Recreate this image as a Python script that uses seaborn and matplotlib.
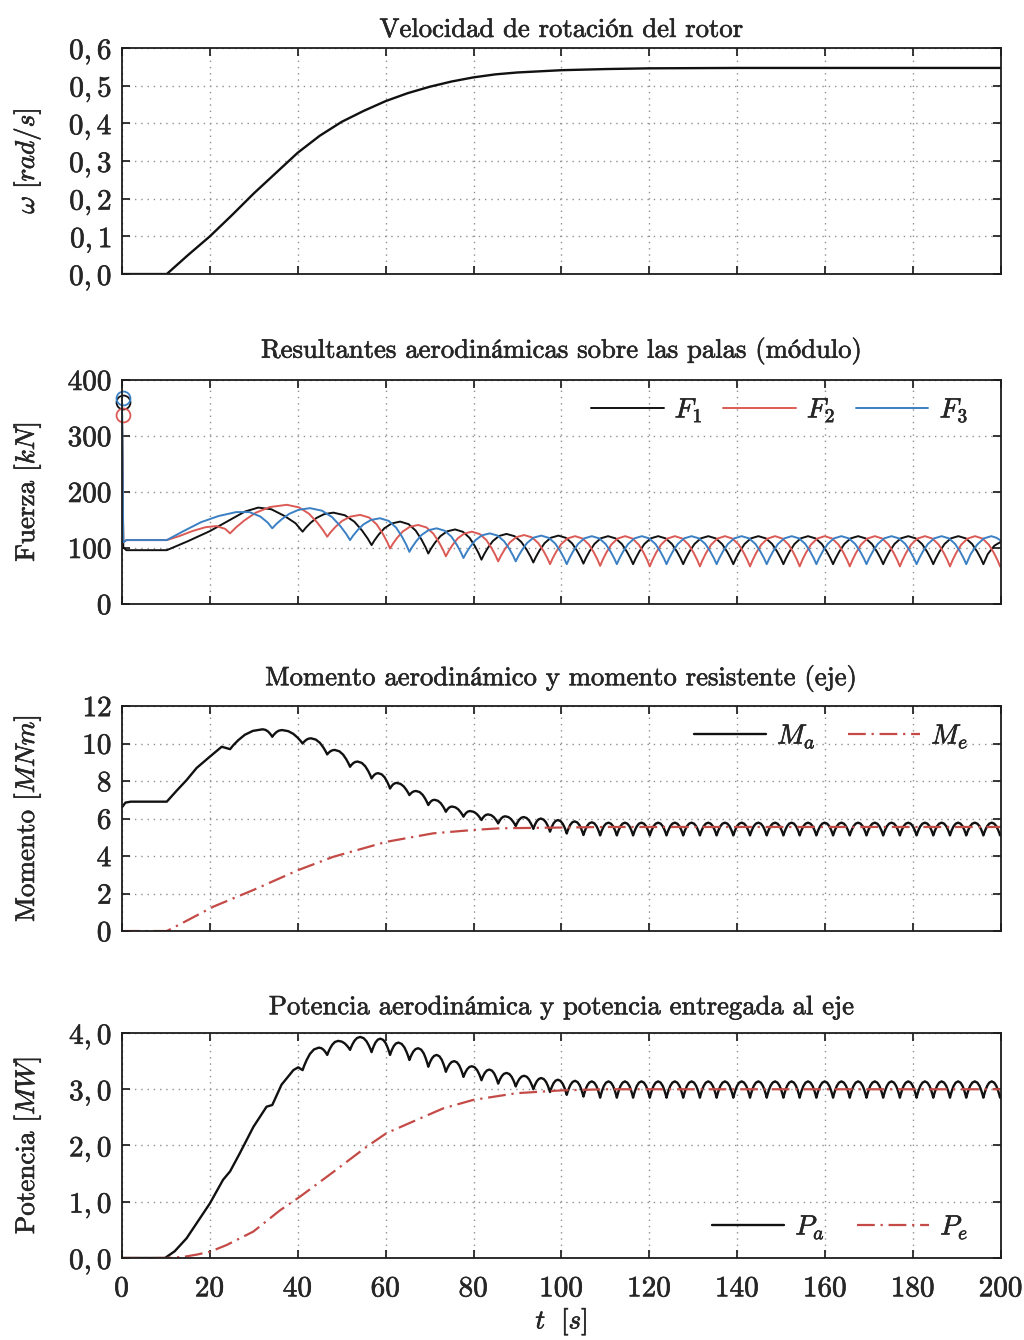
import matplotlib
matplotlib.use("Agg")
import matplotlib.pyplot as plt
import matplotlib.patheffects as pe
from matplotlib.text import Text
import seaborn as sns

# ---- time axis / ticks -------------------------------------------------
x_ticks = [0, 20, 40, 60, 80, 100, 120, 140, 160, 180, 200]

# ---- rotor speed (panel 1) --------------------------------------------
w_t = [0, 10.2, 15, 20, 25, 30, 35, 40, 45, 50, 55, 60, 65, 70, 75, 80,
       85, 90, 100, 110, 120, 140, 200]
w_v = [0, 0, 0.05, 0.10, 0.156, 0.214, 0.268, 0.322, 0.367, 0.404, 0.433,
       0.459, 0.48, 0.497, 0.511, 0.522, 0.53, 0.535, 0.541, 0.544, 0.546,
       0.547, 0.547]
w_ticks = [0, 0.1, 0.2, 0.3, 0.4, 0.5, 0.6]
w_labels = ["$0,0$", "$0,1$", "$0,2$", "$0,3$", "$0,4$", "$0,5$", "$0,6$"]

# ---- blade forces (panel 2): start, cusps, arch tops, end ---------------
f1_head_t = [0, 0.3, 1.0, 2.0, 10.2, 15, 20, 25, 28, 31, 34, 37, 39.5]
f1_head_v = [360, 101, 96, 96, 96, 112, 130, 152, 165, 172, 169, 157, 144]
f1_cusp_t = [41.1, 56.8, 69.7, 81.8, 93.6, 105.0, 116.3, 127.7, 139.1, 150.5,
             161.8, 173.2, 184.6, 196.0]
f1_cusp_v = [129, 105, 90, 79, 74, 72, 71, 71, 71, 71, 71, 71, 71, 71]
f1_top_t = [48.1, 63.3, 75.8, 87.5, 99.3, 110.6, 122.0, 133.4, 144.8, 156.1,
            167.5, 178.9, 190.3]
f1_top_v = [163, 147, 133, 125, 122, 121, 121, 121, 121, 121, 121, 121, 121]
f1_tail_t = [197.0, 198.5, 200.0]
f1_tail_v = [89, 104, 111]

f2_head_t = [0, 0.3, 1.0, 10.2, 13, 16, 19, 21.5, 23.5]
f2_head_v = [338, 110, 114, 114, 121, 130, 137, 139, 134]
f2_cusp_t = [24.6, 46.7, 61.0, 73.7, 85.6, 97.4, 108.8, 120.1, 131.5, 142.9,
             154.2, 165.6, 177.0, 188.4, 199.8]
f2_cusp_v = [126, 120, 99, 85, 76, 71, 68, 67, 67, 67, 67, 67, 67, 67, 67]
f2_top_t = [37.5, 54.2, 67.4, 79.6, 91.5, 103.1, 114.5, 125.8, 137.2, 148.6,
            159.9, 171.3, 182.7, 194.1]
f2_top_v = [177, 159, 141, 129, 123, 121, 121, 121, 121, 121, 121, 121, 121, 121]
f2_tail_t = [200.0]
f2_tail_v = [69]

f3_head_t = [0, 0.3, 1.0, 10.2, 14, 18, 22, 26, 29, 31.5, 33.2]
f3_head_v = [368, 110, 114, 114, 130, 146, 157, 164, 164, 156, 145]
f3_cusp_t = [34.2, 51.9, 65.4, 77.7, 89.6, 101.2, 112.6, 123.9, 135.3, 146.7,
             158.0, 169.4, 180.8, 192.1]
f3_cusp_v = [135, 114, 93, 82, 76, 71, 71, 71, 71, 71, 71, 71, 71, 71]
f3_top_t = [42.8, 58.7, 71.6, 83.7, 95.4, 106.9, 118.3, 129.6, 141.0, 152.4,
            163.7, 175.1, 186.5]
f3_top_v = [171, 153, 135, 126, 122, 121, 121, 121, 121, 121, 121, 121, 121]
f3_tail_t = [193.1, 194.6, 196.1, 197.8, 199.0, 200.0]
f3_tail_v = [89, 106, 117, 121, 118, 113]

f0_marks = [360, 338, 368]   # circled values at t = 0
f_ticks = [0, 100, 200, 300, 400]

# ---- aerodynamic torque (panel 3) ----------------------------------------
rip_cusp_t = [24.6, 34.2, 41.1, 46.7, 51.9, 56.8, 61.0, 65.4, 69.7, 73.7, 77.7,
              81.8, 85.6, 89.6, 93.6, 97.4, 101.2, 105.0, 108.8, 112.6, 116.3,
              120.1, 123.9, 127.7, 131.5, 135.3, 139.1, 142.9, 146.7, 150.5,
              154.2, 158.0, 161.8, 165.6, 169.4, 173.2, 177.0, 180.8, 184.6,
              188.4, 192.1, 196.0, 199.8]
rip_top_t = [32.0, 36.4, 43.0, 48.4, 53.6, 58.3, 62.5, 66.9, 71.1, 75.1, 79.2,
             83.3, 87.2, 91.4, 95.3, 99.2, 103.0, 106.9, 110.7, 114.45, 118.2,
             122.0, 125.8, 129.6, 133.4, 137.2, 141.0, 144.8, 148.6, 152.35,
             156.1, 159.9, 163.7, 167.5, 171.3, 175.1, 178.9, 182.7, 186.5,
             190.25, 194.05, 197.9]

ma_head_t = [0, 0.8, 2.0, 10.2, 12.5, 14.7, 17, 20, 22.7]
ma_head_v = [6.6, 6.85, 6.9, 6.9, 7.5, 8.05, 8.7, 9.3, 9.83]
ma_cusp_v = [9.7, 10.36, 10.0, 9.42, 8.76, 8.14, 7.6, 7.25, 6.72, 6.36, 6.1,
             5.92, 5.74, 5.6, 5.45, 5.3, 5.2, 5.12, 5.1, 5.1, 5.1, 5.1, 5.1,
             5.1, 5.1, 5.1, 5.1, 5.1, 5.1, 5.1, 5.1, 5.1, 5.1, 5.1, 5.1, 5.1,
             5.1, 5.1, 5.1, 5.1, 5.1, 5.1, 5.1]
ma_top_v = [10.76, 10.72, 10.28, 9.66, 9.04, 8.42, 7.9, 7.47, 7.0, 6.64, 6.4,
            6.22, 6.12, 6.08, 6.0, 5.92, 5.85, 5.8, 5.78, 5.78, 5.78, 5.78,
            5.78, 5.78, 5.78, 5.78, 5.78, 5.78, 5.78, 5.78, 5.78, 5.78, 5.78,
            5.78, 5.78, 5.78, 5.78, 5.78, 5.78, 5.78, 5.78, 5.78]
ma_tail_t = [200.0]
ma_tail_v = [5.2]

me_t = [0, 10.2, 13.6, 20.8, 29.9, 40.1, 48.1, 60.2, 70.8, 79.9, 86, 100, 110, 200]
me_v = [0, 0, 0.41, 1.3, 2.19, 3.25, 3.96, 4.76, 5.21, 5.39, 5.48, 5.52, 5.55, 5.55]
m_ticks = [0, 2, 4, 6, 8, 10, 12]

# ---- aerodynamic power (panel 4) ----------------------------------------
pa_head_t = [0, 9.8, 12, 14.7, 17, 20, 23, 24.6, 26.8, 29.9, 32.9, 34.2, 36.3,
             39, 40.1]
pa_head_v = [0, 0, 0.12, 0.35, 0.62, 0.97, 1.39, 1.54, 1.86, 2.33, 2.69, 2.72,
             3.08, 3.34, 3.39]
pa_cusp_v = [3.34, 3.61, 3.70, 3.66, 3.61, 3.52, 3.40, 3.31, 3.22, 3.16, 3.10,
             3.05, 3.00, 2.95, 2.90, 2.87, 2.85, 2.85, 2.85, 2.85, 2.85, 2.85,
             2.85, 2.85, 2.85, 2.85, 2.85, 2.85, 2.85, 2.85, 2.85, 2.85, 2.85,
             2.85, 2.85, 2.85, 2.85, 2.85, 2.85, 2.85, 2.85]
pa_top_t = [44.8, 49.2, 54.2, 58.8, 62.9, 67.4, 71.6, 75.6, 79.6, 83.6, 87.5,
            91.5, 95.4, 99.2, 103.1, 106.9, 110.7, 114.45, 118.2, 122.0, 125.8,
            129.6, 133.4, 137.2, 141.0, 144.8, 148.6, 152.35, 156.1, 159.9,
            163.7, 167.5, 171.3, 175.1, 178.9, 182.7, 186.5, 190.25, 194.05, 197.9]
pa_top_v = [3.74, 3.86, 3.93, 3.90, 3.83, 3.73, 3.61, 3.50, 3.41, 3.35, 3.29,
            3.24, 3.20, 3.17, 3.15, 3.14, 3.14, 3.14, 3.14, 3.14, 3.14, 3.14,
            3.14, 3.14, 3.14, 3.14, 3.14, 3.14, 3.14, 3.14, 3.14, 3.14, 3.14,
            3.14, 3.14, 3.14, 3.14, 3.14, 3.14, 3.14]
pa_tail_t = [200.0]
pa_tail_v = [2.9]

pe_t = [0, 10, 14, 17, 20, 23.8, 29.9, 36, 40.5, 48.1, 55.7, 60.2, 67.8, 73.1,
        79.9, 89.8, 100, 110, 200]
pe_v = [0, 0, 0.02, 0.06, 0.11, 0.23, 0.47, 0.85, 1.09, 1.53, 1.98, 2.22, 2.48,
        2.66, 2.81, 2.93, 2.98, 3.0, 3.0]
p_ticks = [0, 1, 2, 3, 4]
p_labels = ["$0,0$", "$1,0$", "$2,0$", "$3,0$", "$4,0$"]

ARC_STEP = [0.0, 0.1, 0.25, 0.45, 0.7, 1.0]
ARC_RISE = [0.0, 0.2, 0.45, 0.72, 0.92, 1.0]

BLACK = "#111111"
RED = "#dc5a55"
BLUE = "#3b80c4"
DRED = "#c44a46"
TICK_FS = 21
TITLE_FS = 19.2
LABEL_FS = 19.5
LEG_FS = 20
DASHDOT = (0, (8, 2.6, 1, 2.6))


def scalloped(head_t, head_v, cusp_t, cusp_v, top_t, top_v, tail_t, tail_v):
    """Chain the arches cusp -> top -> next cusp using the arch shape."""
    t, v = list(head_t), list(head_v)
    for i in range(len(top_t)):
        c0t, c0v = cusp_t[i], cusp_v[i]
        c1t, c1v = cusp_t[i + 1], cusp_v[i + 1]
        pt, pv = top_t[i], top_v[i]
        for f, r in zip(ARC_STEP, ARC_RISE):
            t.append(c0t + f * (pt - c0t))
            v.append(c0v + r * (pv - c0v))
        for f, r in zip(ARC_STEP[::-1][1:], ARC_RISE[::-1][1:]):
            t.append(c1t - f * (c1t - pt))
            v.append(c1v + r * (pv - c1v))
    return t + list(tail_t), v + list(tail_v)


def draw(ax, t, v, color, label=None, dashdot=False, lw=1.7):
    sns.lineplot(x=t, y=v, ax=ax, color=color, lw=lw, sort=False,
                 estimator=None, label=label, legend=False)
    if dashdot:
        ax.lines[-1].set_linestyle(DASHDOT)


def style_axis(ax, yticks, ylabels, ylim, title, ylabel, pad, show_x=False):
    ax.set_xlim(0, 200)
    ax.set_ylim(*ylim)
    ax.set_xticks(x_ticks)
    ax.set_yticks(yticks)
    ax.set_yticklabels(ylabels)
    ax.tick_params(direction="in", length=6, width=1.3, top=True, right=True,
                   labelsize=TICK_FS, pad=7)
    if show_x:
        ax.set_xticklabels([f"${x}$" for x in x_ticks])
        ax.tick_params(axis="x", pad=13)
        ax.set_xlabel(r"$t\ \ [s]$", fontsize=LABEL_FS, labelpad=3)
    else:
        ax.set_xticklabels([])
    ax.grid(True, linestyle=(0, (1, 3.5)), color="#8f8f8f", linewidth=1.0)
    for s in ax.spines.values():
        s.set_linewidth(1.3)
        s.set_color("#1c1c1c")
    ax.set_title(title, fontsize=TITLE_FS, pad=pad)
    ax.set_ylabel(ylabel, fontsize=LABEL_FS)
    ax.yaxis.set_label_coords(-0.09, 0.5)


def add_legend(ax, ncol, loc, anchor, colsp):
    ax.legend(loc=loc, ncol=ncol, frameon=False, fontsize=LEG_FS,
              handlelength=2.6, columnspacing=colsp, handletextpad=0.4,
              borderaxespad=0.2, bbox_to_anchor=anchor)


sns.set_style("ticks")
plt.rcParams["font.family"] = ["cmr10", "STIXGeneral"]
plt.rcParams["mathtext.fontset"] = "cm"
plt.rcParams["axes.unicode_minus"] = False
plt.rcParams["axes.formatter.use_mathtext"] = True

fig = plt.figure(figsize=(10.24, 13.4), dpi=100)
L, W = 0.1191, 0.8584
ax1 = fig.add_axes([L, 0.7955, W, 0.1687])
ax2 = fig.add_axes([L, 0.5493, W, 0.1672])
ax3 = fig.add_axes([L, 0.3052, W, 0.1679])
ax4 = fig.add_axes([L, 0.0612, W, 0.1679])

# panel 1
draw(ax1, w_t, w_v, BLACK)
style_axis(ax1, w_ticks, w_labels, (0, 0.6),
           "Velocidad de rotación del rotor", r"$\omega\ [rad/s]$", pad=8)

# panel 2
for name, col, head_t, head_v, ct, cv, tt, tv, et, ev in [
        ("$F_1$", BLACK, f1_head_t, f1_head_v, f1_cusp_t, f1_cusp_v, f1_top_t, f1_top_v, f1_tail_t, f1_tail_v),
        ("$F_2$", RED, f2_head_t, f2_head_v, f2_cusp_t, f2_cusp_v, f2_top_t, f2_top_v, f2_tail_t, f2_tail_v),
        ("$F_3$", BLUE, f3_head_t, f3_head_v, f3_cusp_t, f3_cusp_v, f3_top_t, f3_top_v, f3_tail_t, f3_tail_v)]:
    t, v = scalloped(head_t, head_v, ct, cv, tt, tv, et, ev)
    draw(ax2, t, v, col, label=name, lw=1.4)
for val, col in zip(f0_marks, [BLACK, RED, BLUE]):
    ax2.plot([0.2], [val], "o", mfc="none", mec=col, ms=10, mew=1.3, clip_on=False)
style_axis(ax2, f_ticks, [f"${y}$" for y in f_ticks], (0, 400),
           "Resultantes aerodinámicas sobre las palas (módulo)", r"Fuerza $[kN]$",
           pad=16)
add_legend(ax2, 3, "upper right", (0.982, 1.0), 0.75)

# panel 3
t, v = scalloped(ma_head_t, ma_head_v, rip_cusp_t, ma_cusp_v, rip_top_t,
                 ma_top_v, ma_tail_t, ma_tail_v)
draw(ax3, t, v, BLACK, label="$M_a$")
draw(ax3, me_t, me_v, DRED, label="$M_e$", dashdot=True, lw=1.6)
style_axis(ax3, m_ticks, [f"${y}$" for y in m_ticks], (0, 12),
           "Momento aerodinámico y momento resistente (eje)", r"Momento $[MNm]$",
           pad=15)
add_legend(ax3, 2, "upper right", (0.982, 1.0), 1.15)

# panel 4
t, v = scalloped(pa_head_t, pa_head_v, rip_cusp_t[2:], pa_cusp_v, pa_top_t,
                 pa_top_v, pa_tail_t, pa_tail_v)
draw(ax4, t, v, BLACK, label="$P_a$")
draw(ax4, pe_t, pe_v, DRED, label="$P_e$", dashdot=True, lw=1.6)
style_axis(ax4, p_ticks, p_labels, (0, 4),
           "Potencia aerodinámica y potencia entregada al eje", r"Potencia $[MW]$",
           pad=13.5, show_x=True)
add_legend(ax4, 2, "lower right", (0.982, 0.0), 1.15)

# the scanned original has heavier type than plain cmr10
for txt in fig.findobj(Text):
    txt.set_path_effects([pe.withStroke(linewidth=0.45, foreground=txt.get_color())])

fig.savefig("out.png", dpi=100)
